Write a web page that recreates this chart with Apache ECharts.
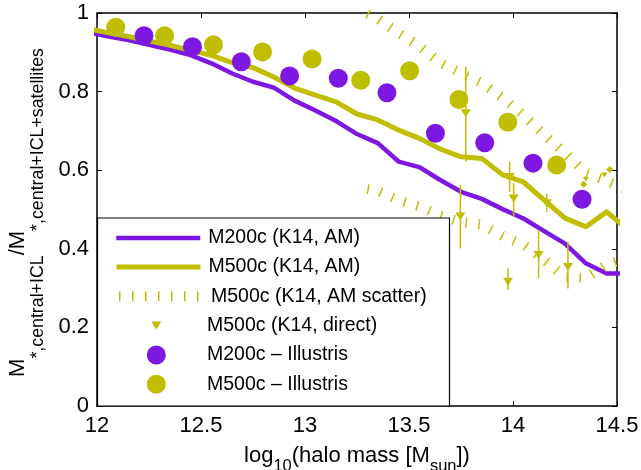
<!DOCTYPE html>
<html>
<head>
<meta charset="utf-8">
<script src="https://cdn.jsdelivr.net/npm/echarts@6/dist/echarts.min.js"></script>
<style>html,body{margin:0;padding:0;background:#fff;}#c{width:641px;height:470px;}</style>
</head>
<body>
<div id="c"></div>
<script>
// ---- data ----
const xTicks = [12, 12.5, 13, 13.5, 14, 14.5];
const yTicks = [0, 0.2, 0.4, 0.6, 0.8, 1];

const amX = [11.95, 12.05, 12.15, 12.25, 12.35, 12.45, 12.55, 12.65, 12.75, 12.85, 12.95, 13.05, 13.15, 13.25,
             13.35, 13.45, 13.55, 13.65, 13.75, 13.85, 13.95, 14.05, 14.15, 14.25, 14.35, 14.45, 14.55];
const m200AM = [0.952, 0.941, 0.931, 0.919, 0.907, 0.893, 0.872, 0.846, 0.825, 0.810, 0.777, 0.752, 0.725, 0.692,
                0.669, 0.622, 0.608, 0.575, 0.545, 0.527, 0.501, 0.477, 0.445, 0.413, 0.363, 0.337, 0.337];
const m500AM = [0.961, 0.950, 0.940, 0.929, 0.918, 0.905, 0.892, 0.874, 0.861, 0.837, 0.809, 0.791, 0.774, 0.743,
                0.728, 0.702, 0.681, 0.654, 0.634, 0.630, 0.588, 0.570, 0.524, 0.478, 0.456, 0.494, 0.450];

const bandX = [13.3, 13.35, 13.45, 13.55, 13.65, 13.75, 13.85, 13.95, 14.05, 14.15, 14.25, 14.35, 14.45, 14.55];
const bandUpper = [0.998, 0.985, 0.949, 0.916, 0.873, 0.847, 0.822, 0.784, 0.740, 0.690, 0.644, 0.593, 0.573, 0.550];
const bandLower = [0.552, 0.547, 0.524, 0.508, 0.485, 0.468, 0.462, 0.433, 0.410, 0.372, 0.328, 0.326, 0.359, 0.377];

const dirX  = [13.747, 13.773, 13.976, 13.984, 14.003, 14.123, 14.162, 14.264];
const dirY  = [0.482, 0.745, 0.316, 0.583, 0.528, 0.384, 0.516, 0.354];
const dirHi = [0.562, 0.863, 0.350, 0.622, 0.567, 0.448, 0.541, 0.418];
const dirLo = [0.401, 0.622, 0.295, 0.545, 0.482, 0.325, 0.494, 0.299];
const dirSmallX = [14.35, 14.44];
const dirSmallY = [0.577, 0.588];
const dirDiaX = [14.34, 14.465];
const dirDiaY = [0.564, 0.602];

const il200X = [12.226, 12.459, 12.694, 12.926, 13.160, 13.394, 13.627, 13.864, 14.096, 14.332];
const il200Y = [0.942, 0.914, 0.876, 0.840, 0.834, 0.797, 0.694, 0.670, 0.618, 0.526];
const il500X = [12.090, 12.325, 12.560, 12.796, 13.034, 13.268, 13.503, 13.740, 13.975, 14.210];
const il500Y = [0.964, 0.942, 0.919, 0.901, 0.883, 0.829, 0.853, 0.780, 0.722, 0.613];

const names = ['M200c (K14, AM)', 'M500c (K14, AM)', 'M500c (K14, AM scatter)',
               'M500c (K14, direct)', 'M200c \u2013 Illustris', 'M500c \u2013 Illustris'];

// ---- style ----
const PUR = '#7d17e2';
const YEL = '#bfbe00';
const FONT = 'Liberation Sans';
const zip = (a, b) => a.map((v, i) => [v, b[i]]);
const TRI = 'path://M0,0L10,0L5,8Z';

const chart = echarts.init(document.getElementById('c'), null, {renderer: 'canvas'});

const axisCommon = {
  type: 'value',
  axisLine: {show: true, onZero: false, lineStyle: {color: '#000', width: 1.5}},
  axisTick: {show: true, inside: true, length: 5, lineStyle: {color: '#000', width: 1}},
  splitLine: {show: false}
};

const rowTop = [228, 257, 286.3, 315.6, 345, 374.3];
const legendText = (pad) => ({fontFamily: FONT, fontSize: 19.5, color: '#000', lineHeight: 20, padding: [0, 0, 0, pad]});
const legendBase = {orient: 'vertical', padding: 0, selectedMode: false, z: 10};
const legends = [
  Object.assign({}, legendBase, {left: 114, top: rowTop[0], data: [names[0]], itemWidth: 84, itemHeight: 12,
    textStyle: legendText(3), itemStyle: {opacity: 0}, lineStyle: {width: 'inherit'}}),
  Object.assign({}, legendBase, {left: 114, top: rowTop[1], data: [names[1]], itemWidth: 84, itemHeight: 12,
    textStyle: legendText(3), itemStyle: {opacity: 0}, lineStyle: {width: 'inherit'}}),
  Object.assign({}, legendBase, {left: 114, top: rowTop[2], data: [names[2]], itemWidth: 84, itemHeight: 12,
    textStyle: legendText(3), itemStyle: {opacity: 0}, lineStyle: {width: 'inherit'}}),
  Object.assign({}, legendBase, {left: 151.3, top: rowTop[3], data: [names[3]], itemWidth: 10, itemHeight: 8,
    textStyle: legendText(40.7)}),
  Object.assign({}, legendBase, {left: 146.8, top: rowTop[4], data: [names[4]], itemWidth: 19, itemHeight: 19,
    textStyle: legendText(36.2)}),
  Object.assign({}, legendBase, {left: 146.8, top: rowTop[5], data: [names[5]], itemWidth: 19, itemHeight: 19,
    textStyle: legendText(36.2)})
];

const option = {
  backgroundColor: '#fff',
  animation: false,
  textStyle: {fontFamily: FONT},
  grid: {left: 97, top: 13, width: 520, height: 393, containLabel: false, outerBoundsMode: 'none'},
  xAxis: [
    Object.assign({}, axisCommon, {
      position: 'bottom', min: xTicks[0], max: xTicks[xTicks.length - 1], interval: 0.5,
      axisLabel: {show: true, color: '#000', fontSize: 22, fontFamily: FONT, margin: 9,
                  showMinLabel: true, showMaxLabel: true},
      name: '{m|log}{s|10}{m|(halo mass [M}{s|sun}{m|])}',
      nameLocation: 'middle', nameGap: 39,
      nameTextStyle: {
        color: '#000', fontFamily: FONT,
        rich: {
          m: {fontSize: 22, lineHeight: 22, verticalAlign: 'top', fontFamily: FONT, color: '#000'},
          s: {fontSize: 16.5, lineHeight: 16.5, padding: [12.7, 0, 0, 0], verticalAlign: 'top', fontFamily: FONT, color: '#000'}
        }
      }
    }),
    Object.assign({}, axisCommon, {
      position: 'top', min: xTicks[0], max: xTicks[xTicks.length - 1], interval: 0.5,
      axisLabel: {show: false}
    })
  ],
  yAxis: [
    Object.assign({}, axisCommon, {
      position: 'left', min: yTicks[0], max: yTicks[yTicks.length - 1], interval: 0.2,
      axisLabel: {show: true, color: '#000', fontSize: 22, fontFamily: FONT, margin: 8,
                  showMinLabel: true, showMaxLabel: true},
      name: '{m|M}{s|*,central+ICL}{m|/M}{s|*,central+ICL+satellites}',
      nameLocation: 'middle', nameRotate: 90, nameGap: 51.5,
      nameTextStyle: {
        color: '#000', fontFamily: FONT, padding: [0, 6, 0, 0],
        rich: {
          m: {fontSize: 22, lineHeight: 22, verticalAlign: 'top', fontFamily: FONT, color: '#000'},
          s: {fontSize: 17.8, lineHeight: 17.8, padding: [22.2, 0, 0, 0], verticalAlign: 'top', fontFamily: FONT, color: '#000'}
        }
      }
    }),
    Object.assign({}, axisCommon, {
      position: 'right', min: yTicks[0], max: yTicks[yTicks.length - 1], interval: 0.2,
      axisLabel: {show: false}
    })
  ],
  legend: legends,
  graphic: [{
    type: 'rect', z: 8, silent: true,
    shape: {x: 97.5, y: 218, width: 352, height: 188},
    style: {fill: '#fff', stroke: '#000', lineWidth: 1.2}
  }],
  series: [
    {
      name: names[0], type: 'line', data: zip(amX, m200AM), showSymbol: false, symbol: 'circle',
      lineStyle: {color: PUR, width: 4.5, join: 'round'}, itemStyle: {color: PUR}, z: 2, clip: true
    },
    {
      name: names[1], type: 'line', data: zip(amX, m500AM), showSymbol: false, symbol: 'circle',
      lineStyle: {color: YEL, width: 5, join: 'round'}, itemStyle: {color: YEL}, z: 2, clip: true
    },
    {
      name: names[2], type: 'line', data: zip(bandX, bandUpper), showSymbol: false, symbol: 'circle',
      lineStyle: {color: YEL, width: 10, type: [1.5, 11.5], cap: 'butt'}, itemStyle: {color: YEL}, z: 2, clip: true
    },
    {
      name: names[2], type: 'line', data: zip(bandX, bandLower), showSymbol: false, symbol: 'circle',
      lineStyle: {color: YEL, width: 10, type: [1.5, 11.5], cap: 'butt'}, itemStyle: {color: YEL}, z: 2, clip: true
    },
    {
      name: 'direct-errorbars', type: 'custom', z: 3,
      data: dirX.map((x, i) => [x, dirLo[i], dirHi[i]]),
      encode: {x: 0, y: [1, 2]},
      renderItem: function (params, api) {
        const p1 = api.coord([api.value(0), api.value(1)]);
        const p2 = api.coord([api.value(0), api.value(2)]);
        return {type: 'line', shape: {x1: p1[0], y1: p1[1], x2: p2[0], y2: p2[1]},
                style: {stroke: YEL, lineWidth: 1.5}};
      }
    },
    {
      name: names[3], type: 'scatter', data: zip(dirX, dirY), symbol: TRI, symbolSize: [10, 8],
      itemStyle: {color: YEL, opacity: 1}, z: 4
    },
    {
      name: 'direct-small', type: 'scatter', data: zip(dirSmallX, dirSmallY), symbol: TRI, symbolSize: [6, 5],
      itemStyle: {color: YEL, opacity: 1}, z: 4
    },
    {
      name: 'direct-small-d', type: 'scatter', data: zip(dirDiaX, dirDiaY), symbol: 'diamond', symbolSize: 7,
      itemStyle: {color: YEL, opacity: 1}, z: 4
    },
    {
      name: names[4], type: 'scatter', data: zip(il200X, il200Y), symbol: 'circle', symbolSize: 19,
      itemStyle: {color: PUR, opacity: 1}, z: 5
    },
    {
      name: names[5], type: 'scatter', data: zip(il500X, il500Y), symbol: 'circle', symbolSize: 19,
      itemStyle: {color: YEL, opacity: 1}, z: 5
    }
  ]
};
chart.setOption(option);
</script>
</body>
</html>
